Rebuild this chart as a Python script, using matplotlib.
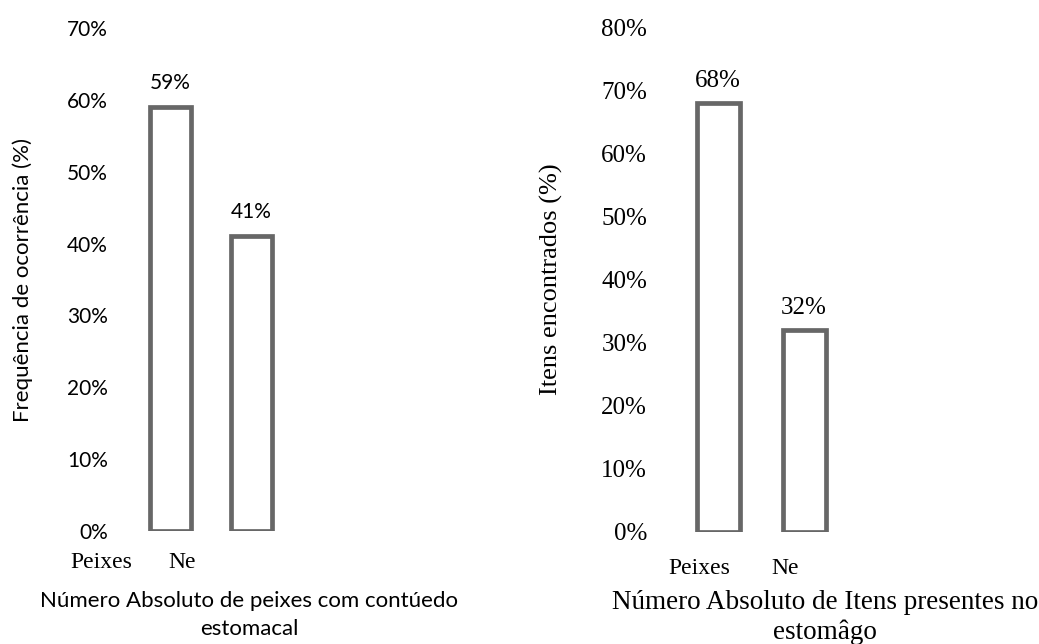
import numpy as np
import matplotlib.pyplot as plt
import matplotlib.transforms as mtransforms

categorias = ['Peixes', 'Ne']
freq_ocorrencia = [0.59, 0.41]
itens_encontrados = [0.68, 0.32]
ticks_esq = [0, 0.1, 0.2, 0.3, 0.4, 0.5, 0.6, 0.7]
ticks_dir = [0, 0.1, 0.2, 0.3, 0.4, 0.5, 0.6, 0.7, 0.8]

W, H = 1039, 644
fig = plt.figure(figsize=(W / 100, H / 100), dpi=100)

cor = '#676767'
x = np.arange(len(categorias))


def px_axes(left, top, right, bottom):
    return fig.add_axes([left / W, 1 - bottom / H, (right - left) / W, (bottom - top) / H])


def estilo(ax, ticks, fonte, tsize, pad):
    for s in ax.spines.values():
        s.set_visible(False)
    ax.set_yticks(ticks)
    ax.set_yticklabels(['%d%%' % round(t * 100) for t in ticks], family=fonte, fontsize=tsize)
    ax.tick_params(axis='y', length=0, pad=pad)
    ax.set_ylim(0, ticks[-1])
    ax.set_xlim(-0.5, len(categorias) - 0.5)


def desloca_cat(ax, dx_px):
    # rótulos das categorias ficam deslocados para a esquerda no original
    off = mtransforms.ScaledTranslation(dx_px / 100, 0, fig.dpi_scale_trans)
    for lab in ax.get_xticklabels():
        lab.set_transform(lab.get_transform() + off)


# painel esquerdo
ax1 = px_axes(130, 28, 292, 531)
b1 = ax1.bar(x, freq_ocorrencia, width=0.5, facecolor='white', edgecolor=cor, linewidth=3.4)
estilo(ax1, ticks_esq, 'Lato', 15, 16)
ax1.set_xticks(x)
ax1.set_xticklabels(categorias, family='Liberation Serif', fontsize=17)
ax1.tick_params(axis='x', length=0, pad=15)
desloca_cat(ax1, -69)
ax1.bar_label(b1, labels=['%d%%' % round(v * 100) for v in freq_ocorrencia],
              padding=10, family='Lato', fontsize=15)
ax1.set_ylabel('Frequência de ocorrência (%)', family='Lato', fontsize=16)
ax1.yaxis.set_label_coords(-0.6, 0.5)
ax1.set_xlabel('Número Absoluto de peixes com contúedo\nestomacal', family='Lato',
               fontsize=16, linespacing=1.5)
ax1.xaxis.set_label_coords((249 - 130) / 162, -0.12)

# painel direito
ax2 = px_axes(675, 27, 847, 532)
b2 = ax2.bar(x, itens_encontrados, width=0.5, facecolor='white', edgecolor=cor, linewidth=3.4)
estilo(ax2, ticks_dir, 'Liberation Serif', 18, 20)
ax2.set_xticks(x)
ax2.set_xticklabels(categorias, family='Liberation Serif', fontsize=17)
ax2.tick_params(axis='x', length=0, pad=19)
desloca_cat(ax2, -19)
ax2.bar_label(b2, labels=['%d%%' % round(v * 100) for v in itens_encontrados],
              padding=8, family='Liberation Serif', fontsize=18)
ax2.set_ylabel('Itens encontrados (%)', family='Liberation Serif', fontsize=19)
ax2.yaxis.set_label_coords(-0.65, 0.5)
ax2.set_xlabel('Número Absoluto de Itens presentes no\nestomâgo', family='Liberation Serif',
               fontsize=19.5, linespacing=1.23)
ax2.xaxis.set_label_coords((825 - 675) / 172, -0.115)

fig.savefig('out.png', dpi=100)
